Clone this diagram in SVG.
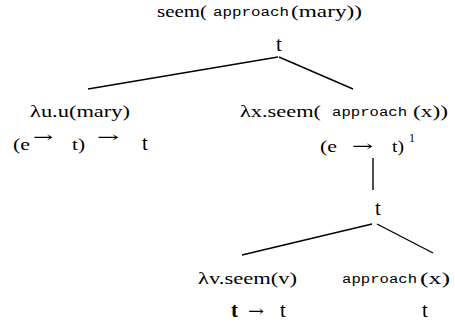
<svg xmlns="http://www.w3.org/2000/svg" width="455" height="324" viewBox="0 0 455 324">
<style>
.s{font-size:17px}
.t{font-size:21px}
.m{font-family:'Liberation Mono',monospace;font-size:12px}
.a{font-family:'DejaVu Serif',serif;font-size:15px}
.e{stroke:#000;stroke-width:1.4;fill:none}
</style>
<rect width="455" height="324" fill="#fff"/>
<g id="edges">
<line class="e" x1="88" y1="89" x2="278" y2="57"/>
<line class="e" x1="279" y1="57" x2="353" y2="89"/>
<line class="e" x1="373" y1="158" x2="373" y2="190"/>
<line class="e" x1="242" y1="255" x2="372" y2="224"/>
<line class="e" x1="377" y1="224" x2="433" y2="253"/>
</g>
<g font-family="Liberation Serif, serif" fill="#000">
<g id="root">
<text class="s" x="157" y="17" textLength="50" lengthAdjust="spacingAndGlyphs">seem(</text>
<text class="m" x="213" y="16" textLength="76" lengthAdjust="spacingAndGlyphs">approach</text>
<text class="s" x="291" y="17" textLength="71" lengthAdjust="spacingAndGlyphs">(mary))</text>
<text class="t" x="279" y="51" text-anchor="middle">t</text>
</g>
<g id="left">
<text class="s" x="30" y="117" textLength="100" lengthAdjust="spacingAndGlyphs">λu.u(mary)</text>
<text class="s" x="13" y="150" textLength="17" lengthAdjust="spacingAndGlyphs">(e</text>
<text class="a" x="33" y="142" textLength="20" lengthAdjust="spacingAndGlyphs">→</text>
<text class="s" x="72" y="150" textLength="13" lengthAdjust="spacingAndGlyphs">t)</text>
<text class="a" x="97" y="142" textLength="22" lengthAdjust="spacingAndGlyphs">→</text>
<text class="t" x="145" y="150" text-anchor="middle">t</text>
</g>
<g id="right">
<text class="s" x="240" y="117" textLength="81" lengthAdjust="spacingAndGlyphs">λx.seem(</text>
<text class="m" x="332" y="116" textLength="75" lengthAdjust="spacingAndGlyphs">approach</text>
<text class="s" x="413" y="117" textLength="35" lengthAdjust="spacingAndGlyphs">(x))</text>
<text class="s" x="320" y="152" textLength="17" lengthAdjust="spacingAndGlyphs">(e</text>
<text class="a" x="352" y="151" textLength="21" lengthAdjust="spacingAndGlyphs">→</text>
<text class="s" x="392" y="152" textLength="12" lengthAdjust="spacingAndGlyphs">t)</text>
<text x="409" y="142" font-size="12">1</text>
</g>
<g id="mid">
<text class="t" x="378" y="215" text-anchor="middle">t</text>
</g>
<g id="leaf1">
<text class="s" x="198" y="284" textLength="99" lengthAdjust="spacingAndGlyphs">λv.seem(v)</text>
<text class="t" x="231" y="317" font-weight="bold">t</text>
<text class="a" x="248" y="316" textLength="16" lengthAdjust="spacingAndGlyphs">→</text>
<text class="t" x="280" y="317">t</text>
</g>
<g id="leaf2">
<text class="m" x="342" y="283" textLength="75" lengthAdjust="spacingAndGlyphs">approach</text>
<text class="s" x="420" y="284" textLength="30" lengthAdjust="spacingAndGlyphs">(x)</text>
<text class="t" x="425" y="317" text-anchor="middle">t</text>
</g>
</g>
</svg>
